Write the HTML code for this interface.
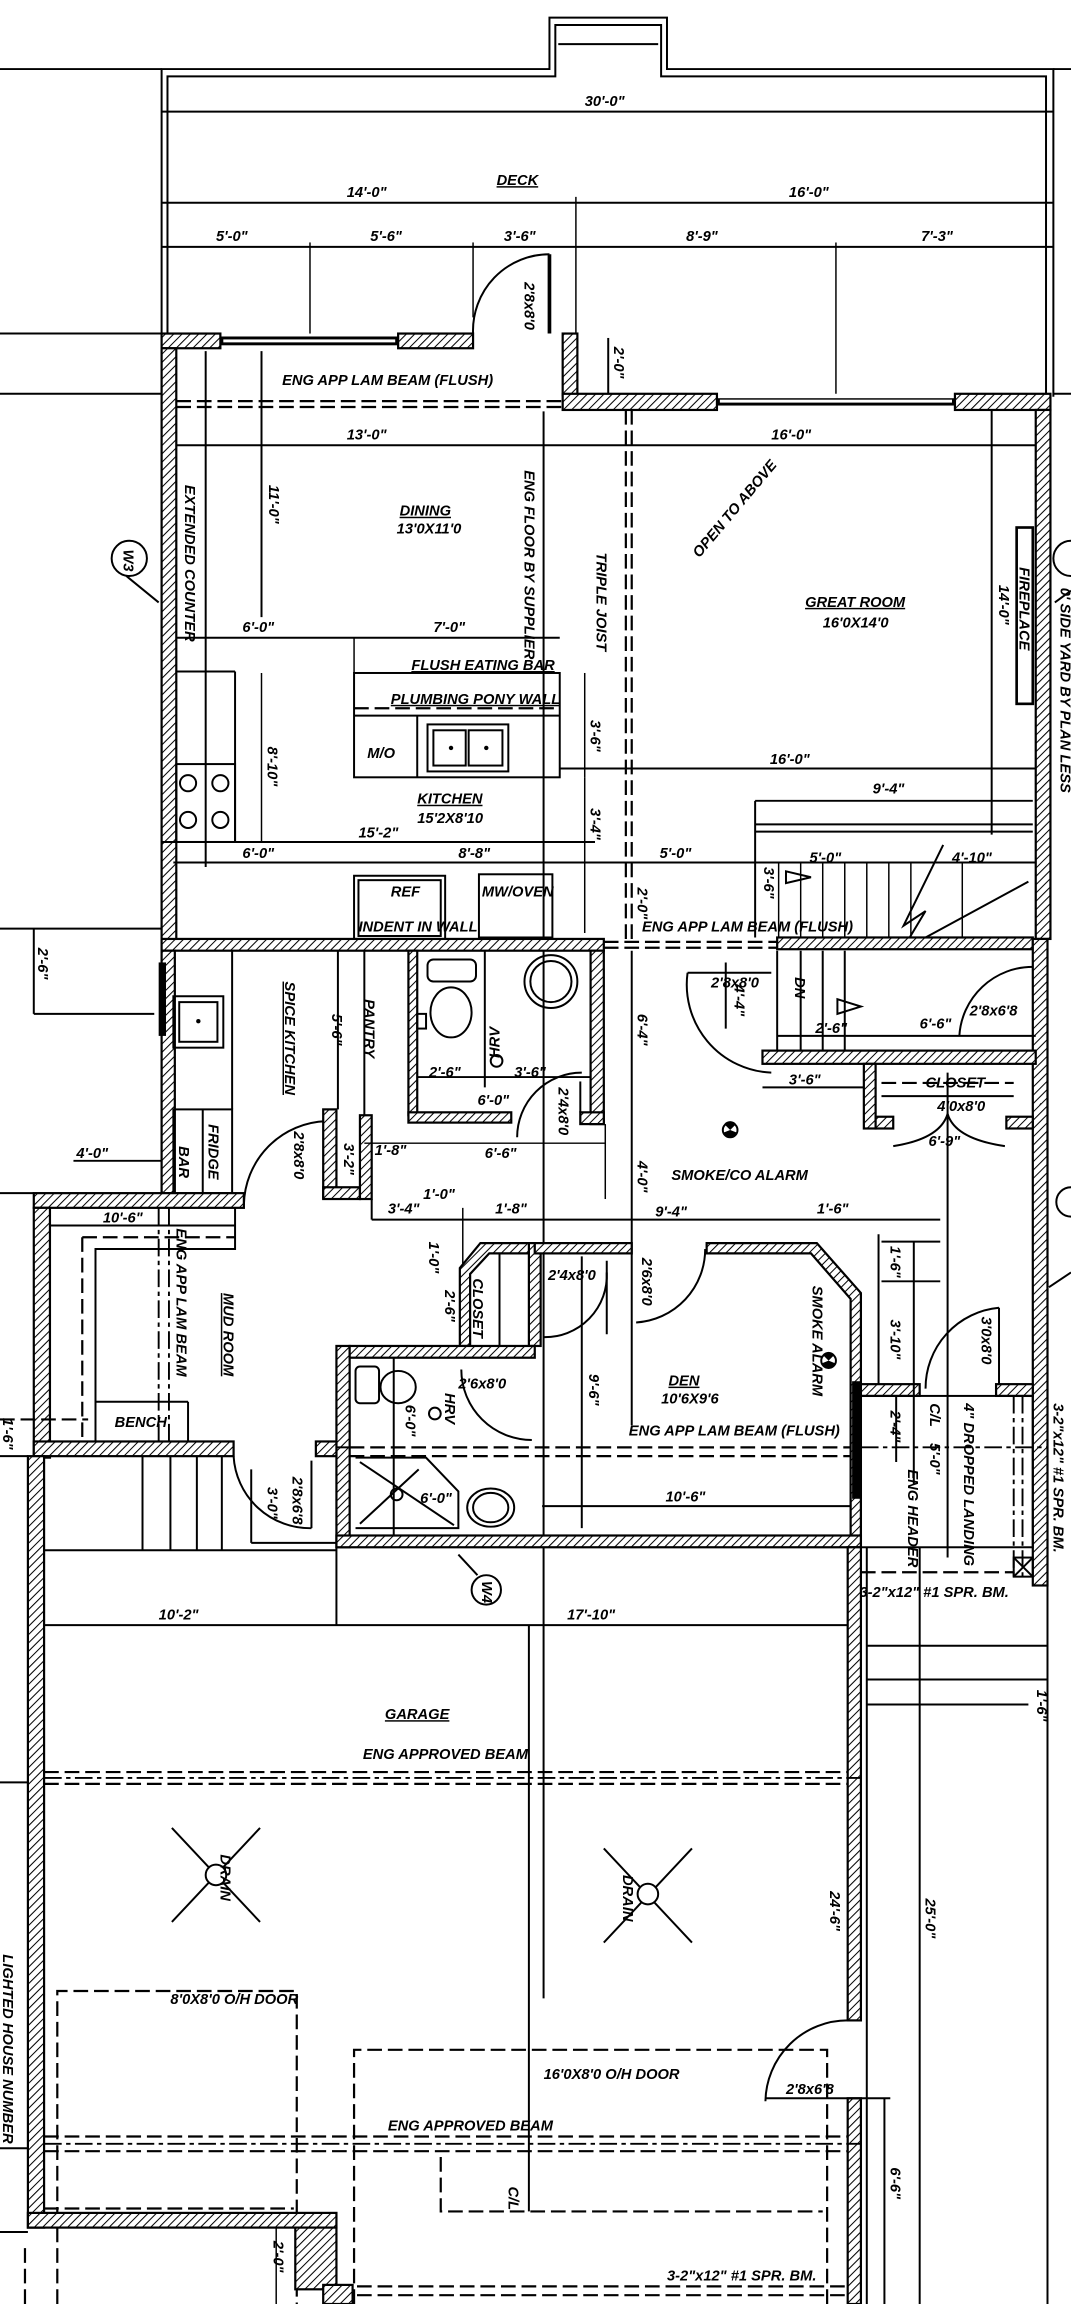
<!DOCTYPE html>
<html><head><meta charset="utf-8"><style>
html,body{margin:0;padding:0;background:#fff}
svg{display:block}
text{font-family:"Liberation Sans Narrow","Liberation Sans",sans-serif;font-style:italic;font-weight:bold;font-size:10px;fill:#000}
.w{fill:url(#h);stroke:#000;stroke-width:1.5}
.l{stroke:#000;stroke-width:1.35;fill:none}
.t{stroke:#000;stroke-width:1;fill:none}
.d{stroke:#000;stroke-width:1.5;fill:none;stroke-dasharray:10 4}
.dd{stroke:#000;stroke-width:1.3;fill:none;stroke-dasharray:12 3 3 3}
</style></head><body>
<svg width="1071" height="2304" viewBox="0 0 729 1568" preserveAspectRatio="none" xmlns="http://www.w3.org/2000/svg">
<defs><pattern id="h" width="4" height="4" patternUnits="userSpaceOnUse" patternTransform="rotate(45)"><rect width="4" height="4" fill="#fff"/><line x1="0" y1="0" x2="0" y2="4" stroke="#000" stroke-width="1.4"/></pattern></defs>

<!-- DECK -->
<polyline class="l" stroke-width="1.6" points="110,227 110,47 374,47 374,12 454,12 454,47 717,47 717,270"/>
<polyline class="l" points="114,227 114,52 378,52 378,17 450,17 450,52 712,52 712,270"/>
<line class="l" x1="380" y1="30" x2="448" y2="30"/>
<line class="l" x1="0" y1="47" x2="110" y2="47"/><line class="l" x1="717" y1="47" x2="729" y2="47"/>
<line class="l" x1="110" y1="76" x2="717" y2="76"/>
<line class="l" x1="110" y1="138" x2="717" y2="138"/>
<line class="l" x1="110" y1="168" x2="717" y2="168"/>
<line class="t" x1="211" y1="165" x2="211" y2="227"/><line class="t" x1="322" y1="165" x2="322" y2="216"/>
<line class="t" x1="392" y1="134" x2="392" y2="227"/><line class="t" x1="569" y1="165" x2="569" y2="268"/>
<text x="398" y="72">30'-0"</text><text x="338" y="126" text-decoration="underline">DECK</text>
<text x="236" y="134">14'-0"</text><text x="537" y="134">16'-0"</text>
<text x="147" y="164">5'-0"</text><text x="252" y="164">5'-6"</text><text x="343" y="164">3'-6"</text>
<text x="467" y="164">8'-9"</text><text x="627" y="164">7'-3"</text>
<path class="l" d="M374,173 A52,52 0 0 0 322,227"/><line x1="374" y1="173" x2="374" y2="227" stroke="#000" stroke-width="2.5"/>
<text transform="translate(357,192) rotate(90)">2'8x8'0</text>
<line class="l" x1="0" y1="227" x2="110" y2="227"/><line class="l" x1="0" y1="268" x2="110" y2="268"/><line class="l" x1="717" y1="268" x2="729" y2="268"/>

<!-- upper house walls -->
<rect class="w" x="110" y="227" width="40" height="10"/><rect x="150" y="229" width="121" height="6" fill="#000"/><rect x="152" y="231" width="117" height="2" fill="#fff"/>
<rect class="w" x="271" y="227" width="51" height="10"/>
<rect class="w" x="383" y="227" width="10" height="42"/>
<rect class="w" x="383" y="268" width="105" height="11"/><rect x="488" y="271" width="162" height="5" fill="#000"/><rect x="490" y="272" width="158" height="2" fill="#fff"/>
<rect class="w" x="650" y="268" width="65" height="11"/>
<rect class="w" x="110" y="237" width="10" height="403"/>
<rect class="w" x="705" y="279" width="10" height="360"/>
<line class="l" x1="414" y1="230" x2="414" y2="268"/><text transform="translate(418,236) rotate(90)">2'-0"</text>
<line class="d" x1="120" y1="273" x2="383" y2="273"/><line class="d" x1="120" y1="277" x2="383" y2="277"/>
<text x="192" y="262" font-size="8.5">ENG APP LAM  BEAM (FLUSH)</text>
<line class="l" x1="120" y1="303" x2="705" y2="303"/>
<text x="236" y="299">13'-0"</text><text x="525" y="299">16'-0"</text>
<line class="l" x1="140" y1="239" x2="140" y2="590"/><line class="l" x1="178" y1="239" x2="178" y2="420"/>
<line class="l" x1="370" y1="280" x2="370" y2="1360"/>
<line class="d" x1="426" y1="279" x2="426" y2="640"/><line class="d" x1="430" y1="279" x2="430" y2="640"/>
<line class="l" x1="675" y1="279" x2="675" y2="568"/>
<text transform="translate(126,330) rotate(90)" font-size="9">EXTENDED COUNTER</text>
<text transform="translate(183,330) rotate(90)">11'-0"</text>
<text x="272" y="351" font-size="11" text-decoration="underline">DINING</text><text x="270" y="363" font-size="11">13'0X11'0</text>
<text transform="translate(357,320) rotate(90)" font-size="9">ENG FLOOR BY SUPPLIER</text>
<text transform="translate(406,376) rotate(90)" font-size="9">TRIPLE JOIST</text>
<text transform="translate(476,380) rotate(-50)" font-size="9">OPEN TO ABOVE</text>
<text x="548" y="413" font-size="11" text-decoration="underline">GREAT ROOM</text><text x="560" y="427" font-size="11">16'0X14'0</text>
<rect x="692" y="359" width="11" height="120" fill="#fff" stroke="#000" stroke-width="1.8"/>
<text transform="translate(694,386) rotate(90)" font-size="8">FIREPLACE</text>
<text transform="translate(680,398) rotate(90)">14'-0"</text>
<text transform="translate(722,400) rotate(90)" font-size="8">0' SIDE YARD BY PLAN LESS</text>
<circle cx="88" cy="380" r="12" class="l"/><text transform="translate(84,374) rotate(90)" font-size="8">W3</text>
<line class="l" x1="86" y1="392" x2="108" y2="410"/>
<path class="l" d="M729,368 A12,12 0 0 0 729,392"/><line class="l" x1="729" y1="402" x2="718" y2="410"/>

<!-- kitchen -->
<line class="l" x1="120" y1="434" x2="381" y2="434"/>
<text x="165" y="430">6'-0"</text><text x="295" y="430">7'-0"</text>
<line class="t" x1="241" y1="434" x2="241" y2="458"/>
<rect class="l" x="241" y="458" width="140" height="71"/>
<line class="d" x1="241" y1="482" x2="381" y2="482" stroke-dasharray="6 3"/>
<line class="l" x1="241" y1="487" x2="381" y2="487"/>
<text x="280" y="456" font-size="8.5" text-decoration="underline">FLUSH EATING BAR</text>
<text x="266" y="479" font-size="8.5" text-decoration="underline">PLUMBING PONY WALL</text>
<line class="l" x1="284" y1="487" x2="284" y2="529"/>
<rect class="l" x="291" y="493" width="55" height="32"/><rect class="l" x="295" y="497" width="22" height="24"/><rect class="l" x="319" y="497" width="23" height="24"/>
<circle cx="307" cy="509" r="1.5"/><circle cx="331" cy="509" r="1.5"/>
<text x="250" y="516">M/O</text>
<line class="t" x1="398" y1="458" x2="398" y2="529"/><text transform="translate(402,490) rotate(90)">3'-6"</text>
<line class="l" x1="381" y1="523" x2="705" y2="523"/><text x="524" y="520">16'-0"</text>
<line class="l" x1="120" y1="457" x2="160" y2="457"/><line class="l" x1="160" y1="457" x2="160" y2="573"/>
<rect class="l" x="120" y="520" width="40" height="53"/>
<circle cx="128" cy="533" r="5.5" class="l"/><circle cx="150" cy="533" r="5.5" class="l"/>
<circle cx="128" cy="558" r="5.5" class="l"/><circle cx="150" cy="558" r="5.5" class="l"/>
<line class="t" x1="178" y1="458" x2="178" y2="573"/><text transform="translate(182,508) rotate(90)">8'-10"</text>
<text x="284" y="547" font-size="11" text-decoration="underline">KITCHEN</text><text x="284" y="560" font-size="11">15'2X8'10</text>
<text x="244" y="570">15'-2"</text>
<line class="l" x1="110" y1="573" x2="405" y2="573"/>
<line class="l" x1="118" y1="587" x2="705" y2="587"/>
<text x="165" y="584">6'-0"</text><text x="312" y="584">8'-8"</text><text x="449" y="584">5'-0"</text>
<line class="t" x1="398" y1="529" x2="398" y2="635"/><text transform="translate(402,550) rotate(90)">3'-4"</text>
<rect class="l" x="241" y="596" width="62" height="43"/><rect class="l" x="244" y="599" width="56" height="38"/>
<rect class="l" x="326" y="595" width="50" height="43"/>
<text x="266" y="610" font-size="8.5">REF</text><text x="328" y="610" font-size="8.5">MW/OVEN</text>
<text x="244" y="634" font-size="8">INDENT IN WALL</text>
<text transform="translate(434,604) rotate(90)">2'-0"</text>

<!-- stairs -->
<line class="l" x1="514" y1="545" x2="703" y2="545"/><text x="594" y="540">9'-4"</text>
<line class="l" x1="514" y1="561" x2="703" y2="561"/><line class="l" x1="514" y1="566" x2="703" y2="566"/>
<line class="l" x1="514" y1="545" x2="514" y2="638"/>
<g class="t"><line x1="530" y1="587" x2="530" y2="638"/><line x1="545" y1="587" x2="545" y2="638"/><line x1="560" y1="587" x2="560" y2="638"/><line x1="575" y1="587" x2="575" y2="638"/><line x1="590" y1="587" x2="590" y2="638"/><line x1="605" y1="587" x2="605" y2="638"/><line x1="620" y1="587" x2="620" y2="638"/><line x1="655" y1="587" x2="655" y2="638"/></g>
<polyline class="l" points="642,575 615,630 630,620 618,640"/>
<line class="l" x1="630" y1="638" x2="700" y2="600"/>
<polygon class="l" points="535,593 552,597 535,601"/>
<text x="551" y="587">5'-0"</text><text x="648" y="587">4'-10"</text>
<text transform="translate(520,590) rotate(90)" font-size="9">3'-6"</text>

<!-- mid wall y 639 -->
<rect class="w" x="110" y="639" width="301" height="8"/>
<line class="d" x1="411" y1="641" x2="529" y2="641"/><line class="d" x1="411" y1="645" x2="529" y2="645"/>
<rect class="w" x="529" y="638" width="174" height="8"/>
<text x="437" y="634" font-size="8.5">ENG APP LAM  BEAM (FLUSH)</text>
<rect class="w" x="110" y="647" width="9" height="165"/>
<rect class="w" x="703" y="639" width="10" height="440"/>
<line class="l" x1="0" y1="632" x2="110" y2="632"/><line class="l" x1="23" y1="632" x2="23" y2="690"/>
<text transform="translate(26,645) rotate(90)">2'-6"</text>
<line class="l" x1="23" y1="690" x2="105" y2="690"/>
<rect x="108" y="655" width="5" height="50" fill="#000"/>

<!-- spice kitchen / pantry / bath -->
<rect class="l" x="118" y="678" width="34" height="35"/><rect class="l" x="122" y="682" width="26" height="27"/><circle cx="135" cy="695" r="1.5"/>
<line class="l" x1="158" y1="647" x2="158" y2="755"/>
<text transform="translate(194,668) rotate(90)" font-size="11" text-decoration="underline">SPICE KITCHEN</text>
<line class="l" x1="230" y1="647" x2="230" y2="755"/><line class="l" x1="248" y1="647" x2="248" y2="759"/>
<text transform="translate(226,690) rotate(90)">5'-6"</text>
<text transform="translate(248,680) rotate(90)" font-size="9">PANTRY</text>
<rect class="w" x="278" y="647" width="6" height="112"/>
<rect class="w" x="278" y="757" width="70" height="7"/>
<rect class="w" x="402" y="647" width="9" height="118"/><rect class="w" x="395" y="757" width="16" height="8"/>
<rect class="l" x="291" y="653" width="33" height="15" rx="4"/>
<ellipse class="l" cx="307" cy="689" rx="14" ry="17"/><rect class="l" x="284" y="690" width="6" height="10"/>
<circle cx="375" cy="668" r="18" class="l"/><circle cx="375" cy="668" r="14" class="l"/>
<line class="l" x1="330" y1="647" x2="330" y2="740"/><line class="l" x1="284" y1="733" x2="402" y2="733"/>
<text x="292" y="733">2'-6"</text><text x="350" y="733">3'-6"</text><text x="325" y="752">6'-0"</text>
<text transform="translate(340,720) rotate(-90)" font-size="8">HRV</text><circle cx="338" cy="722" r="4" class="l"/>
<path class="l" d="M396,730 A44,44 0 0 0 352,774"/><text transform="translate(380,740) rotate(90)" font-size="9">2'4x8'0</text>
<line class="l" x1="395" y1="736" x2="395" y2="757"/>
<rect class="l" x="118" y="755" width="40" height="57"/><line class="l" x1="138" y1="755" x2="138" y2="812"/>
<text transform="translate(142,765) rotate(90)" font-size="9">FRIDGE</text><text transform="translate(122,780) rotate(90)" font-size="9">BAR</text>
<path class="l" d="M222,763 A58,58 0 0 0 166,820"/><text transform="translate(200,770) rotate(90)" font-size="9">2'8x8'0</text>
<rect class="w" x="220" y="755" width="9" height="60"/><rect class="w" x="220" y="808" width="25" height="8"/>
<rect class="w" x="245" y="759" width="8" height="57"/>
<text transform="translate(234,778) rotate(90)">3'-2"</text>
<text x="255" y="786">1'-8"</text><text x="330" y="788">6'-6"</text>
<line class="t" x1="248" y1="778" x2="412" y2="778"/><line class="t" x1="412" y1="765" x2="412" y2="816"/>
<line class="l" x1="430" y1="647" x2="430" y2="970"/>
<text transform="translate(434,690) rotate(90)">6'-4"</text>
<text transform="translate(434,790) rotate(90)">4'-0"</text>
<path class="l" d="M468,662 A60,60 0 0 0 525,730"/><line class="l" x1="468" y1="662" x2="525" y2="662"/>
<text x="484" y="672" font-size="9">2'8x8'0</text>
<line class="l" x1="494" y1="655" x2="494" y2="700"/><text transform="translate(500,670) rotate(90)" font-size="9">4'-4"</text>
<line class="l" x1="529" y1="647" x2="529" y2="715"/><line class="l" x1="545" y1="647" x2="545" y2="715"/>
<line class="l" x1="560" y1="647" x2="560" y2="715"/><line class="l" x1="575" y1="647" x2="575" y2="715"/>
<text transform="translate(541,665) rotate(90)" font-size="9">DN</text><polygon class="l" points="570,680 586,685 570,690"/>
<text x="555" y="703">2'-6"</text>
<line class="l" x1="529" y1="705" x2="705" y2="705"/>
<path class="l" d="M703,658 A50,50 0 0 0 653,705"/><text x="626" y="700">6'-6"</text><text x="660" y="691" font-size="9">2'8x6'8</text>
<rect class="w" x="519" y="715" width="186" height="9"/>
<line class="l" x1="519" y1="740" x2="590" y2="740"/><text x="537" y="738">3'-6"</text>
<rect class="w" x="588" y="724" width="8" height="44"/><rect class="w" x="596" y="760" width="12" height="8"/>
<rect class="w" x="685" y="760" width="18" height="8"/>
<line class="l" x1="600" y1="746" x2="690" y2="746"/><line class="d" x1="600" y1="737" x2="690" y2="737" stroke-dasharray="6 3"/>
<text x="630" y="740" font-size="9">CLOSET</text><text x="638" y="756" font-size="9">4'0x8'0</text>
<path class="l" d="M608,780 Q640,775 645,758 Q650,775 684,780"/>
<text x="632" y="780" font-size="9">6'-9"</text>
<line class="l" x1="645" y1="730" x2="645" y2="1060"/>
<circle cx="497" cy="769" r="5" class="l"/><path d="M497,769 L493,765 A5,5 0 0 1 501,765 Z M497,769 L492,771 A5,5 0 0 0 497,774 Z M497,769 L502,771 A5,5 0 0 1 497,774 Z" fill="#000"/>
<text x="457" y="803" font-size="9">SMOKE/CO ALARM</text>

<!-- mud room -->
<rect class="w" x="23" y="812" width="143" height="10"/>
<line class="l" x1="50" y1="790" x2="110" y2="790"/><text x="52" y="788">4'-0"</text>
<line class="l" x1="0" y1="812" x2="23" y2="812"/>
<rect class="w" x="23" y="822" width="11" height="170"/>
<line class="l" x1="34" y1="834" x2="160" y2="834"/><text x="70" y="832">10'-6"</text>
<line class="d" x1="56" y1="842" x2="160" y2="842" stroke-dasharray="6 3"/><line class="d" x1="56" y1="842" x2="56" y2="981" stroke-dasharray="6 3"/>
<polyline class="l" points="160,822 160,850 65,850 65,981"/>
<line class="dd" x1="108" y1="822" x2="108" y2="981"/><line class="dd" x1="115" y1="822" x2="115" y2="981"/>
<text transform="translate(120,836) rotate(90)" font-size="8.5">ENG APP LAM BEAM</text>
<text transform="translate(152,880) rotate(90)" font-size="11" text-decoration="underline">MUD ROOM</text>
<line class="l" x1="65" y1="954" x2="128" y2="954"/><line class="l" x1="128" y1="954" x2="128" y2="981"/>
<text x="78" y="971" font-size="8.5">BENCH</text>
<line class="d" x1="0" y1="966" x2="60" y2="966" stroke-dasharray="6 3"/>
<text transform="translate(2,965) rotate(90)">1'-6"</text>
<line class="l" x1="253" y1="816" x2="253" y2="830"/>
<line class="l" x1="253" y1="830" x2="640" y2="830"/>
<text x="264" y="826">3'-4"</text><text x="288" y="816">1'-0"</text><text x="337" y="826">1'-8"</text><text x="446" y="828">9'-4"</text><text x="556" y="826">1'-6"</text>
<line class="t" x1="315" y1="822" x2="315" y2="916"/><text transform="translate(292,845) rotate(90)">1'-0"</text>
<text transform="translate(303,878) rotate(90)">2'-6"</text>
<polygon class="w" points="327,846 364,846 364,853 333,853 320,867 320,916 313,916 313,863"/>
<text transform="translate(322,870) rotate(90)" font-size="9">CLOSET</text>
<line class="l" x1="340" y1="853" x2="340" y2="916"/>
<rect class="w" x="360" y="846" width="8" height="70"/>
<rect class="w" x="364" y="846" width="66" height="7"/>
<path class="l" d="M413,866 A42,42 0 0 1 370,910"/><line class="l" x1="413" y1="858" x2="413" y2="908"/>
<text x="373" y="871" font-size="9">2'4x8'0</text>
<path class="l" d="M433,900 A50,50 0 0 0 480,850"/><text transform="translate(437,856) rotate(90)" font-size="9">2'6x8'0</text>
<polygon class="w" points="481,846 556,846 586,880 586,1053 579,1053 579,884 552,853 481,853"/>
<text transform="translate(553,875) rotate(90)" font-size="9">SMOKE ALARM</text>
<circle cx="564" cy="926" r="5" class="l"/><path d="M564,926 L560,922 A5,5 0 0 1 568,922 Z M564,926 L559,928 A5,5 0 0 0 564,931 Z M564,926 L569,928 A5,5 0 0 1 564,931 Z" fill="#000"/>
<text x="455" y="943" font-size="11" text-decoration="underline">DEN</text><text x="450" y="955" font-size="11">10'6X9'6</text>
<text transform="translate(401,935) rotate(90)">9'-6"</text>
<line class="l" x1="396" y1="855" x2="396" y2="1040"/>
<text x="428" y="977" font-size="8.5">ENG APP LAM  BEAM (FLUSH)</text>
<line class="d" x1="238" y1="985" x2="579" y2="985"/><line class="d" x1="238" y1="991" x2="579" y2="991"/>
<line class="l" x1="369" y1="1025" x2="579" y2="1025"/><text x="453" y="1022">10'-6"</text>
<rect x="580" y="940" width="6" height="80" fill="#000"/>
<!-- bath -->
<rect class="w" x="229" y="916" width="9" height="137"/>
<rect class="w" x="238" y="916" width="126" height="8"/>
<rect class="w" x="229" y="1045" width="357" height="8"/>
<rect class="l" x="242" y="930" width="16" height="25" rx="3"/>
<ellipse class="l" cx="271" cy="944" rx="12" ry="11"/>
<circle cx="296" cy="962" r="4" class="l"/><text transform="translate(303,948) rotate(90)" font-size="8">HRV</text>
<path class="l" d="M314,932 A48,48 0 0 0 362,980"/><text x="312" y="945" font-size="9">2'6x8'0</text>
<line class="l" x1="268" y1="924" x2="268" y2="1045"/>
<polyline class="l" points="242,992 290,992 312,1015 312,1040 242,1040"/>
<line class="l" x1="245" y1="995" x2="309" y2="1038"/><line class="l" x1="245" y1="1037" x2="285" y2="1000"/>
<circle cx="270" cy="1017" r="4" class="l"/>
<text transform="translate(276,956) rotate(90)" font-size="9">6'-0"</text><text x="286" y="1023" font-size="9">6'-0"</text>
<ellipse class="l" cx="334" cy="1026" rx="16" ry="13"/><ellipse class="l" cx="334" cy="1026" rx="12" ry="10"/>
<line class="l" x1="238" y1="985" x2="229" y2="985"/>
<!-- mud bottom -->
<rect class="w" x="23" y="981" width="136" height="10"/><rect class="w" x="215" y="981" width="14" height="10"/>
<rect class="w" x="19" y="991" width="11" height="525"/>
<line class="l" x1="0" y1="991" x2="19" y2="991"/>
<path class="l" d="M159,991 A52,52 0 0 0 212,1040"/><line class="l" x1="212" y1="994" x2="212" y2="1040"/>
<text transform="translate(199,1005) rotate(90)" font-size="9">2'8x6'8</text><text transform="translate(182,1012) rotate(90)">3'-0"</text>
<line class="l" x1="171" y1="1000" x2="171" y2="1050"/><line class="l" x1="171" y1="1050" x2="229" y2="1050"/>
<g class="l"><line x1="97" y1="991" x2="97" y2="1055"/><line x1="116" y1="991" x2="116" y2="1055"/><line x1="134" y1="991" x2="134" y2="1055"/><line x1="151" y1="991" x2="151" y2="1055"/></g>
<line class="l" x1="30" y1="1055" x2="229" y2="1055"/><line class="l" x1="229" y1="1053" x2="229" y2="1106"/>
<line class="l" x1="30" y1="1106" x2="577" y2="1106"/>
<text x="108" y="1102">10'-2"</text><text x="386" y="1102">17'-10"</text>
<circle cx="331" cy="1082" r="10" class="l"/><text transform="translate(328,1076) rotate(90)" font-size="8">W4</text><line class="l" x1="325" y1="1072" x2="312" y2="1058"/>
<path class="l" d="M729,808 A10,10 0 0 0 729,828"/><line class="l" x1="729" y1="866" x2="714" y2="876"/>

<!-- right landing -->
<rect class="w" x="586" y="942" width="40" height="8"/><rect class="w" x="678" y="942" width="25" height="8"/>
<line class="l" x1="600" y1="845" x2="640" y2="845"/><line class="l" x1="600" y1="872" x2="640" y2="872"/>
<line class="l" x1="598" y1="840" x2="598" y2="942"/><line class="l" x1="622" y1="845" x2="622" y2="1010"/>
<text transform="translate(606,848) rotate(90)">1'-6"</text><text transform="translate(606,898) rotate(90)">3'-10"</text>
<path class="l" d="M630,945 A55,55 0 0 1 680,890"/><line class="l" x1="680" y1="890" x2="680" y2="942"/>
<text transform="translate(668,896) rotate(90)" font-size="9">3'0x8'0</text>
<rect class="l" x="586" y="950" width="117" height="103"/>
<line class="l" x1="610" y1="950" x2="610" y2="995"/><text transform="translate(606,960) rotate(90)">2'-4"</text>
<text transform="translate(618,1000) rotate(90)" font-size="9">ENG HEADER</text>
<text transform="translate(633,955) rotate(90)">C/L</text><text transform="translate(633,982) rotate(90)">5'-0"</text>
<text transform="translate(656,955) rotate(90)" font-size="8.5">4" DROPPED LANDING</text>
<line class="dd" x1="586" y1="985" x2="713" y2="985"/>
<line class="dd" x1="690" y1="950" x2="690" y2="1075"/><line class="dd" x1="696" y1="950" x2="696" y2="1075"/>
<rect class="l" x="690" y="1060" width="13" height="13"/><line class="l" x1="690" y1="1060" x2="703" y2="1073"/><line class="l" x1="703" y1="1060" x2="690" y2="1073"/>
<line class="d" x1="586" y1="1070" x2="690" y2="1070" stroke-dasharray="6 3"/>
<text x="585" y="1087" font-size="8.5">3-2"x12" #1 SPR. BM.</text>
<text transform="translate(717,955) rotate(90)" font-size="8.5">3-2"x12" #1 SPR. BM.</text>
<line class="l" x1="713" y1="1079" x2="713" y2="1568"/><line class="l" x1="626" y1="1053" x2="626" y2="1568"/>
<line class="l" x1="590" y1="1053" x2="590" y2="1568"/>
<line class="l" x1="590" y1="1120" x2="713" y2="1120"/><line class="l" x1="590" y1="1143" x2="713" y2="1143"/><line class="l" x1="590" y1="1160" x2="700" y2="1160"/>
<text transform="translate(706,1150) rotate(90)" font-size="9">1'-6"</text>

<!-- garage -->
<rect class="w" x="577" y="1053" width="9" height="322"/><rect class="w" x="577" y="1428" width="9" height="140"/>
<text x="262" y="1170" font-size="11" text-decoration="underline">GARAGE</text>
<text x="247" y="1197" font-size="8.5">ENG APPROVED BEAM</text>
<line class="d" x1="30" y1="1206" x2="577" y2="1206"/><line class="dd" x1="30" y1="1210" x2="586" y2="1210"/><line class="d" x1="30" y1="1214" x2="577" y2="1214"/>
<line class="l" x1="0" y1="1213" x2="19" y2="1213"/>
<g class="l"><line x1="117" y1="1244" x2="177" y2="1308"/><line x1="177" y1="1244" x2="117" y2="1308"/><circle cx="147" cy="1276" r="7" fill="#fff"/>
<line x1="411" y1="1258" x2="471" y2="1322"/><line x1="471" y1="1258" x2="411" y2="1322"/><circle cx="441" cy="1289" r="7" fill="#fff"/></g>
<text transform="translate(150,1262) rotate(90)" font-size="8">DRAIN</text><text transform="translate(424,1276) rotate(90)" font-size="8">DRAIN</text>
<line class="l" x1="360" y1="1106" x2="360" y2="1505"/>
<polyline class="d" points="39,1568 39,1355 202,1355 202,1568" stroke-dasharray="8 4"/>
<text x="116" y="1364" font-size="8.5">8'0X8'0 O/H DOOR</text>
<polyline class="d" points="241,1568 241,1395 563,1395 563,1568" stroke-dasharray="8 4"/>
<text x="370" y="1415" font-size="8.5">16'0X8'0 O/H DOOR</text>
<path class="l" d="M577,1375 A56,56 0 0 0 521,1430"/><line class="l" x1="521" y1="1428" x2="606" y2="1428"/>
<text x="535" y="1425" font-size="9">2'8x6'8</text>
<text transform="translate(565,1287) rotate(90)">24'-6"</text><text transform="translate(630,1292) rotate(90)">25'-0"</text>
<line class="l" x1="602" y1="1428" x2="602" y2="1568"/><text transform="translate(606,1475) rotate(90)">6'-6"</text>
<text x="264" y="1450" font-size="8.5">ENG APPROVED BEAM</text>
<line class="d" x1="30" y1="1454" x2="577" y2="1454"/><line class="dd" x1="30" y1="1459" x2="586" y2="1459"/><line class="d" x1="30" y1="1464" x2="577" y2="1464"/>
<line class="l" x1="0" y1="1462" x2="19" y2="1462"/>
<polyline class="d" points="300,1468 300,1505 560,1505" stroke-dasharray="8 4"/>
<text transform="translate(346,1488) rotate(90)">C/L</text>
<text x="454" y="1552" font-size="8.5">3-2"x12" #1 SPR. BM.</text>
<line class="d" x1="229" y1="1556" x2="577" y2="1556"/><line class="d" x1="229" y1="1562" x2="577" y2="1562"/>
<rect class="w" x="19" y="1506" width="210" height="10"/><rect class="w" x="201" y="1516" width="28" height="42"/>
<rect class="w" x="220" y="1555" width="20" height="13"/>
<line class="d" x1="30" y1="1503" x2="200" y2="1503" stroke-dasharray="8 4"/>
<line class="t" x1="188" y1="1516" x2="188" y2="1568"/><text transform="translate(186,1525) rotate(90)">2'-0"</text>
<line class="l" x1="0" y1="1519" x2="19" y2="1519"/>
<line class="d" x1="17" y1="1530" x2="17" y2="1568" stroke-dasharray="4 3"/>
<text transform="translate(2,1330) rotate(90)" font-size="8">LIGHTED HOUSE NUMBER</text>
</svg>
</body></html>
